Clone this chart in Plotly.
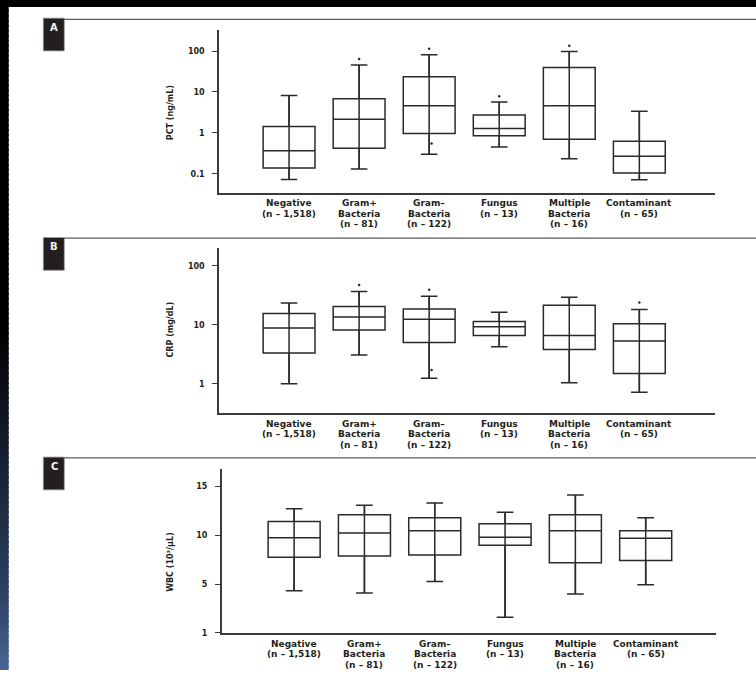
import plotly.graph_objects as go

W, H = 756, 675

# Category labels (one list entry per printed line)
label_lines = [
    ["Negative", "(n – 1,518)"],
    ["Gram+", "Bacteria", "(n – 81)"],
    ["Gram–", "Bacteria", "(n – 122)"],
    ["Fungus", "(n – 13)"],
    ["Multiple", "Bacteria", "(n – 16)"],
    ["Contaminant", "(n – 65)"],
]
positions = [0, 1, 2, 3, 4, 5]

# Panel A: PCT (ng/mL)
pct_q1 = [0.139, 0.42, 0.97, 0.85, 0.70, 0.105]
pct_median = [0.366, 2.15, 4.6, 1.28, 4.6, 0.267]
pct_q3 = [1.43, 6.8, 23.4, 2.73, 39.4, 0.62]
pct_low = [0.072, 0.13, 0.30, 0.45, 0.234, 0.071]
pct_high = [8.2, 45.7, 81.0, 5.66, 98.0, 3.36]
pct_out_pos = [1, 2, 2.035, 3, 4]
pct_out_val = [64.0, 114.0, 0.55, 7.9, 134.0]
pct_ticks = [0.1, 1, 10, 100]
pct_ticktext = ["0.1", "1", "10", "100"]

# Panel B: CRP (mg/dL)
crp_q1 = [3.32, 8.2, 5.0, 6.6, 3.83, 1.49]
crp_median = [8.8, 13.6, 12.4, 9.25, 6.6, 5.3]
crp_q3 = [15.5, 20.4, 18.6, 11.4, 21.4, 10.4]
crp_low = [1.0, 3.07, 1.24, 4.26, 1.04, 0.72]
crp_high = [23.5, 36.9, 30.4, 16.3, 29.2, 18.1]
crp_out_pos = [1, 2, 2.035, 5]
crp_out_val = [47.3, 39.4, 1.71, 24.0]
crp_ticks = [1, 10, 100]
crp_ticktext = ["1", "10", "100"]

# Panel C: WBC (10³/μL); the lowest tick marks the axis floor
wbc_q1 = [7.78, 7.9, 8.0, 8.99, 7.2, 7.43]
wbc_median = [9.76, 10.23, 10.47, 9.8, 10.47, 9.7]
wbc_q3 = [11.4, 12.1, 11.78, 11.17, 12.1, 10.47]
wbc_low = [4.37, 4.14, 5.31, 1.65, 4.04, 4.98]
wbc_high = [12.7, 13.06, 13.3, 12.35, 14.1, 11.78]
wbc_floor = 0.06
wbc_ticks = [wbc_floor, 5, 10, 15]
wbc_ticktext = ["1", "5", "10", "15"]

INK = "#2a2a2a"
TEXT = "#231f20"
FONT = "DejaVu Sans"


def px(x):
    return x / W


def py(y):
    return 1 - y / H


panels = [
    dict(letter="A", title="PCT (ng/mL)", q1=pct_q1, med=pct_median, q3=pct_q3,
         lo=pct_low, hi=pct_high, out_pos=pct_out_pos, out_val=pct_out_val,
         ticks=pct_ticks, ticktext=pct_ticktext, ytype="log", yrange=[-1.46, 2.52],
         xdom=(219, 715), ydom=(30, 194), xrange=[-1.0, 6.08],
         box_top=18.3, sep=19.5, title_y=113.5),
    dict(letter="B", title="CRP (mg/dL)", q1=crp_q1, med=crp_median, q3=crp_q3,
         lo=crp_low, hi=crp_high, out_pos=crp_out_pos, out_val=crp_out_val,
         ticks=crp_ticks, ticktext=crp_ticktext, ytype="log", yrange=[-0.494, 2.30],
         xdom=(219, 715), ydom=(250, 416), xrange=[-1.0, 6.08],
         box_top=239.3, sep=240.0, title_y=332.5),
    dict(letter="C", title="WBC (10³/μL)", q1=wbc_q1, med=wbc_median, q3=wbc_q3,
         lo=wbc_low, hi=wbc_high, out_pos=[], out_val=[],
         ticks=wbc_ticks, ticktext=wbc_ticktext, ytype="linear", yrange=[wbc_floor, 16.73],
         xdom=(221.7, 716), ydom=(472.7, 637.7), xrange=[-1.03, 6.0],
         box_top=460.5, sep=461.2, title_y=566.5),
]

fig = go.Figure()
layout = dict(
    width=W, height=H, margin=dict(l=0, r=0, t=0, b=0),
    paper_bgcolor="white", plot_bgcolor="rgba(0,0,0,0)",
    showlegend=False, hovermode=False,
)
annotations = []
shapes = []

for k, p in enumerate(panels):
    sfx = "" if k == 0 else str(k + 1)
    xa, ya = "x" + sfx, "y" + sfx

    # whisker line running through each box
    lx, ly = [], []
    for i, lo, hi in zip(positions, p["lo"], p["hi"]):
        lx += [i, i, None]
        ly += [lo, hi, None]
    fig.add_trace(go.Scatter(x=lx, y=ly, mode="lines", xaxis=xa, yaxis=ya,
                             line=dict(color=INK, width=1.5)))

    fig.add_trace(go.Box(
        x=positions, q1=p["q1"], median=p["med"], q3=p["q3"],
        lowerfence=p["lo"], upperfence=p["hi"],
        width=0.74, whiskerwidth=0.32, boxpoints=False,
        fillcolor="rgba(0,0,0,0)", line=dict(color=INK, width=1.5),
        xaxis=xa, yaxis=ya,
    ))

    if p["out_pos"]:
        fig.add_trace(go.Scatter(
            x=p["out_pos"], y=p["out_val"], mode="markers", xaxis=xa, yaxis=ya,
            marker=dict(color=INK, size=2.5),
        ))

    layout["xaxis" + sfx] = dict(
        domain=[px(p["xdom"][0]), px(p["xdom"][1])], range=p["xrange"],
        anchor=ya, showline=True, linecolor="#3a3a3a", linewidth=1.5,
        showticklabels=False, ticks="", showgrid=False, zeroline=False,
    )
    layout["yaxis" + sfx] = dict(
        domain=[py(p["ydom"][1]), py(p["ydom"][0])], type=p["ytype"], range=p["yrange"],
        anchor=xa, showline=True, linecolor="#3a3a3a", linewidth=1.5,
        ticks="outside", ticklen=5, tickwidth=1.3, tickcolor="#3a3a3a",
        tickvals=p["ticks"], ticktext=p["ticktext"], ticklabelstandoff=6,
        tickfont=dict(family=FONT, size=8, color=TEXT, weight="bold"),
        showgrid=False, zeroline=False,
    )

    # category labels under the x axis
    axis_y = p["ydom"][1]
    for i, lines in zip(positions, label_lines):
        for j, line in enumerate(lines):
            annotations.append(dict(
                x=i, xref=xa, y=py(axis_y + 11 + j * 10.5), yref="paper",
                text=line, showarrow=False, xanchor="center", yanchor="middle",
                font=dict(family=FONT, size=9, color=TEXT, weight="bold"),
            ))

    # rotated y-axis title
    annotations.append(dict(
        x=px(170.5), xref="paper", y=py(p["title_y"]), yref="paper",
        text=p["title"], textangle=-90, showarrow=False,
        xanchor="center", yanchor="middle",
        font=dict(family=FONT, size=8, color=TEXT, weight="bold"),
    ))

    # panel letter tab and separator rule
    shapes.append(dict(type="rect", xref="paper", yref="paper",
                       x0=px(43.3), x1=px(64.3), y0=py(p["box_top"] + 33), y1=py(p["box_top"]),
                       fillcolor="#231f20", line=dict(color="#9a9a9a", width=0.8)))
    shapes.append(dict(type="line", xref="paper", yref="paper",
                       x0=px(64.3), x1=1, y0=py(p["sep"]), y1=py(p["sep"]),
                       line=dict(color="#5a5a5a", width=1.2)))
    annotations.append(dict(
        x=px(54), xref="paper", y=py(p["box_top"] + 9.5), yref="paper",
        text=p["letter"], showarrow=False, xanchor="center", yanchor="middle",
        font=dict(family=FONT, size=10, color="#f4f4f4", weight="bold"),
    ))

# dark frame: top band and left strip fading to blue
shapes.append(dict(type="rect", xref="paper", yref="paper", x0=0, x1=1,
                   y0=py(7), y1=1, fillcolor="black", line=dict(width=0), layer="above"))
stops = [(0, (0, 0, 0)), (330, (0, 0, 0)), (450, (20, 28, 45)),
         (600, (45, 65, 100)), (675, (72, 102, 150))]


def strip_color(y):
    for (y0, c0), (y1, c1) in zip(stops[:-1], stops[1:]):
        if y0 <= y <= y1:
            t = (y - y0) / (y1 - y0) if y1 > y0 else 0
            return "rgb(%d,%d,%d)" % tuple(round(a + (b - a) * t) for a, b in zip(c0, c1))
    return "rgb(%d,%d,%d)" % stops[-1][1]


# overlapping bands so no seams show between them
band = 5
for y in range(0, H, band):
    shapes.append(dict(type="rect", xref="paper", yref="paper",
                       x0=0, x1=px(8.7), y0=py(min(y + band + 2, H)), y1=py(y),
                       fillcolor=strip_color(y + band / 2), line=dict(width=0), layer="above"))

layout["annotations"] = annotations
layout["shapes"] = shapes
fig.update_layout(**layout)

fig.write_html("out.html")
